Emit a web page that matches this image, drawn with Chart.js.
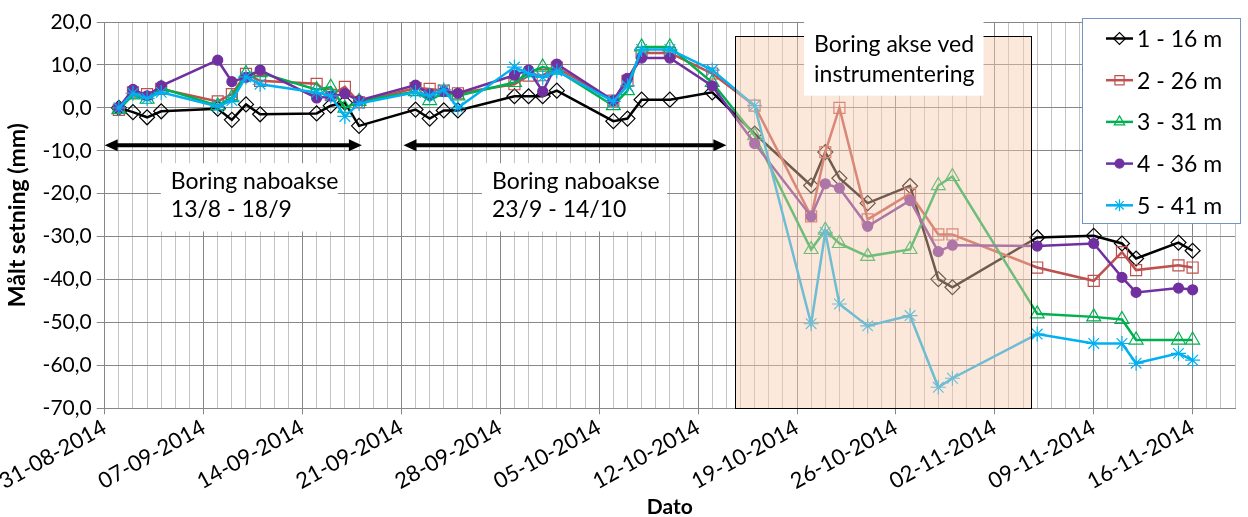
<!DOCTYPE html>
<html>
<head>
<meta charset="utf-8">
<script src="https://cdn.jsdelivr.net/npm/chart.js@4.4.1/dist/chart.umd.min.js"></script>
<style>
    html, body { margin: 0; padding: 0; background: #fff; }
    #wrap { width: 1248px; height: 517px; position: relative; }
</style>
</head>
<body>
<div id="wrap"><canvas id="myChart"></canvas></div>
<script>
// måledatoer
var dates = ["01-09-2014", "02-09-2014", "03-09-2014", "04-09-2014", "08-09-2014", "09-09-2014",
    "10-09-2014", "11-09-2014", "15-09-2014", "16-09-2014", "17-09-2014", "18-09-2014",
    "22-09-2014", "23-09-2014", "24-09-2014", "25-09-2014", "29-09-2014", "30-09-2014",
    "01-10-2014", "02-10-2014", "06-10-2014", "07-10-2014", "08-10-2014", "10-10-2014",
    "13-10-2014", "16-10-2014", "20-10-2014", "21-10-2014", "22-10-2014", "24-10-2014",
    "27-10-2014", "29-10-2014", "30-10-2014", "05-11-2014", "09-11-2014", "11-11-2014",
    "12-11-2014", "15-11-2014", "16-11-2014"];

var s1 = [0.0, -1.0, -2.2, -0.8, -0.2, -2.8, 0.8, -1.5, -1.3, 0.5, 1.2, -4.2,
    -0.4, -2.5, -0.6, -0.6, 2.7, 2.7, 2.7, 4.0, -3.1, -2.5, 1.9, 1.9, 3.6,
    -6.0, -18.1, -10.3, -16.4, -22.2, -18.2, -39.9, -41.8,
    -30.2, -29.8, -31.6, -35.1, -31.4, -33.3];
var s2 = [-0.5, 3.6, 3.2, 4.4, 1.5, 3.2, 7.9, 6.3, 5.6, 3.0, 4.9, 1.3,
    4.6, 4.4, 4.0, 3.4, 5.5, 7.5, 7.6, 9.4, 1.7, 6.3, 12.8, 12.8, 8.0,
    0.5, -25.3, -10.3, 0.0, -26.0, -20.0, -29.5, -29.5,
    -37.2, -40.3, -33.6, -37.8, -36.7, -37.2];
var s3 = [-0.4, 3.0, 2.0, 4.6, 0.5, 2.4, 8.0, 8.2, 4.2, 4.8, -0.1, 1.5,
    3.8, 1.7, 3.6, 2.8, 5.9, 8.2, 9.5, 8.8, 0.5, 4.0, 14.2, 14.2, 5.9,
    -6.5, -33.0, -28.5, -31.6, -34.6, -33.0, -18.1, -16.0,
    -48.0, -48.7, -49.3, -54.1, -54.1, -54.1];
var s4 = [0.1, 4.3, 2.8, 5.1, 11.1, 6.1, 7.1, 8.8, 2.3, 2.7, 3.3, 1.7,
    5.3, 3.2, 3.8, 3.4, 7.6, 8.8, 3.8, 10.2, 1.7, 6.9, 11.6, 11.6, 5.1,
    -8.3, -25.3, -17.7, -18.7, -27.6, -21.6, -33.5, -32.0,
    -32.2, -31.6, -39.5, -43.0, -42.0, -42.4];
var s5 = [0.0, 3.4, 2.2, 3.6, 0.3, 1.7, 7.2, 5.5, 3.6, 2.8, -2.0, 1.0,
    3.6, 2.8, 4.2, 0.0, 9.5, 8.0, 7.1, 8.6, 1.5, 5.1, 13.6, 13.6, 8.8,
    0.5, -50.3, -29.0, -45.7, -50.8, -48.4, -65.1, -63.0,
    -52.7, -54.9, -54.9, -59.5, -57.2, -58.8];

var seriesNames = ["1 - 16 m", "2 - 26 m", "3 - 31 m", "4 - 36 m", "5 - 41 m"];
var xTickLabels = ["31-08-2014", "07-09-2014", "14-09-2014", "21-09-2014", "28-09-2014", "05-10-2014",
    "12-10-2014", "19-10-2014", "26-10-2014", "02-11-2014", "09-11-2014", "16-11-2014"];
var xLastDay = "19-11-2014";

function dayOf(s) {
    var p = s.split('-');
    var p0 = xTickLabels[0].split('-');
    return (Date.UTC(+p[2], +p[1] - 1, +p[0]) - Date.UTC(+p0[2], +p0[1] - 1, +p0[0])) / 86400000;
}

function toPoints(vals) {
    return vals.map(function (v, i) { return { x: dayOf(dates[i]), y: v }; });
}

var FONT = 'Lato, "Open Sans", sans-serif';

var lineColors = ["#000000", "#C0504D", "#00B050", "#7030A0", "#00B0F0"];
var markers = [
    { style: 'rectRot', r: 7.5, fill: 'rgba(0,0,0,0)' },
    { style: 'rect', r: 7.8, fill: 'rgba(0,0,0,0)' },
    { style: 'triangle', r: 8, fill: 'rgba(0,0,0,0)' },
    { style: 'circle', r: 5, fill: '#7030A0' },
    { style: 'star', r: 7.5, fill: 'rgba(0,0,0,0)' }
];
var allSeries = [s1, s2, s3, s4, s5];

var datasets = allSeries.map(function (s, i) {
    return {
        label: seriesNames[i],
        data: toPoints(s),
        borderColor: lineColors[i],
        backgroundColor: lineColors[i],
        borderWidth: 2.5,
        tension: 0,
        pointStyle: markers[i].style,
        pointRadius: markers[i].r,
        pointBorderColor: lineColors[i],
        pointBackgroundColor: markers[i].fill,
        pointBorderWidth: 1.2,
        order: 5 - i
    };
});

var overlayPlugin = {
    id: 'overlays',
    afterDatasetsDraw: function (chart, args, opts) {
        var ctx = chart.ctx, xs = chart.scales.x, ys = chart.scales.y;
        ctx.save();

        // skravert felt
        var b = opts.shade;
        var l = xs.getPixelForValue(b.x0), r = xs.getPixelForValue(b.x1);
        var t = ys.getPixelForValue(b.y0), bt = ys.getPixelForValue(b.y1);
        ctx.fillStyle = b.color;
        ctx.fillRect(l, t, r - l, bt - t);
        ctx.strokeStyle = '#000';
        ctx.lineWidth = 1;
        ctx.strokeRect(Math.round(l) + 0.5, Math.round(t) + 0.5, Math.round(r - l), Math.round(bt - t));

        // piler
        opts.arrows.forEach(function (a) {
            var x0 = xs.getPixelForValue(a.x0), x1 = xs.getPixelForValue(a.x1), y = ys.getPixelForValue(a.y);
            var hl = 13, hw = 6;
            ctx.strokeStyle = '#000';
            ctx.fillStyle = '#000';
            ctx.lineWidth = 4;
            ctx.beginPath();
            ctx.moveTo(x0 + hl - 2, y);
            ctx.lineTo(x1 - hl + 2, y);
            ctx.stroke();
            ctx.beginPath();
            ctx.moveTo(x0, y); ctx.lineTo(x0 + hl, y - hw); ctx.lineTo(x0 + hl, y + hw); ctx.closePath();
            ctx.fill();
            ctx.beginPath();
            ctx.moveTo(x1, y); ctx.lineTo(x1 - hl, y - hw); ctx.lineTo(x1 - hl, y + hw); ctx.closePath();
            ctx.fill();
        });

        // tekstbokser
        opts.boxes.forEach(function (bx) {
            var l = xs.getPixelForValue(bx.x0), r = xs.getPixelForValue(bx.x1);
            var t = ys.getPixelForValue(bx.y0), bt = ys.getPixelForValue(bx.y1);
            ctx.fillStyle = '#fff';
            ctx.fillRect(l, t, r - l, bt - t);
            ctx.fillStyle = '#000';
            ctx.font = '23px ' + FONT;
            ctx.textAlign = 'left';
            ctx.textBaseline = 'alphabetic';
            bx.lines.forEach(function (txt, k) {
                ctx.fillText(txt, l + bx.padX, t + bx.base[k]);
            });
        });

        // tegnforklaring
        var lg = opts.legend;
        ctx.fillStyle = '#fff';
        ctx.fillRect(lg.x, lg.y, lg.w, lg.h);
        ctx.strokeStyle = '#7393C4';
        ctx.lineWidth = 1;
        ctx.strokeRect(lg.x + 0.5, lg.y + 0.5, lg.w, lg.h);
        chart.data.datasets.forEach(function (ds, i) {
            var cy = lg.y + lg.first + i * lg.step;
            var lx = lg.x + 24;
            ctx.strokeStyle = ds.borderColor;
            ctx.lineWidth = 2.5;
            ctx.beginPath();
            ctx.moveTo(lx, cy); ctx.lineTo(lx + 27, cy);
            ctx.stroke();
            ctx.fillStyle = ds.pointBackgroundColor;
            ctx.strokeStyle = ds.pointBorderColor;
            ctx.lineWidth = ds.pointBorderWidth;
            var pr = ds.pointStyle === 'circle' ? 4.5 : 6;
            if (ds.pointStyle === 'rect') pr = 6.5;
            Chart.helpers.drawPoint(ctx, { pointStyle: ds.pointStyle, radius: pr, rotation: 0, borderWidth: ds.pointBorderWidth }, lx + 13.5, cy);
            ctx.fillStyle = '#000';
            ctx.font = '23px ' + FONT;
            ctx.textAlign = 'left';
            ctx.textBaseline = 'middle';
            ctx.fillText(ds.label, lx + 31, cy + 1);
        });

        ctx.restore();
    }
};

const ctx1 = document.getElementById('myChart');

new Chart(ctx1, {
    type: 'line',
    data: { datasets: datasets },
    plugins: [overlayPlugin],
    options: {
        responsive: true,
        maintainAspectRatio: false,
        animation: false,
        layout: { padding: { top: 22, right: 13, left: 4, bottom: -3 } },
        plugins: {
            legend: { display: false },
            tooltip: { enabled: false },
            overlays: {
                shade: { x0: 44.62, x1: 65.56, y0: 16.7, y1: -70, color: 'rgba(248,203,173,0.45)' },
                arrows: [
                    { x0: 0, x1: 18.2, y: -8.7 },
                    { x0: 21.15, x1: 44.0, y: -8.7 }
                ],
                boxes: [
                    { x0: 3.97, x1: 16.5, y0: -12.9, y1: -28.8, padX: 10, base: [26, 54], lines: ["Boring naboakse", "13/8 - 18/9"] },
                    { x0: 26.7, x1: 39.8, y0: -12.9, y1: -28.8, padX: 10, base: [26, 54], lines: ["Boring naboakse", "23/9 - 14/10"] },
                    { x0: 49.5, x1: 62.2, y0: 20.2, y1: 2.84, padX: 10, base: [31, 61], lines: ["Boring akse ved", "instrumentering"] }
                ],
                legend: { x: 1082, y: 18, w: 158, h: 205, first: 20.5, step: 41.7 }
            }
        },
        scales: {
            x: {
                type: 'linear',
                min: 0,
                max: dayOf(xLastDay),
                afterBuildTicks: function (axis) {
                    var t = [];
                    for (var d = 0; d <= dayOf(xLastDay); d++) t.push({ value: d });
                    axis.ticks = t;
                },
                grid: {
                    color: function (c) { return c.tick && c.tick.value % 7 === 0 ? '#878787' : '#C4C4C4'; },
                    tickColor: function (c) { return c.tick && c.tick.value % 7 === 0 ? '#878787' : 'rgba(0,0,0,0)'; },
                    tickLength: 6,
                    lineWidth: 1
                },
                border: { color: '#878787' },
                ticks: {
                    autoSkip: false,
                    minRotation: 29,
                    maxRotation: 29,
                    padding: 0,
                    color: '#000',
                    font: { family: FONT, size: 22 },
                    callback: function (v) {
                        if (v % 7 !== 0) return '';
                        return xTickLabels[v / 7] || '';
                    }
                },
                title: {
                    display: true,
                    text: 'Dato',
                    color: '#000',
                    font: { family: FONT, size: 21, weight: 'bold' },
                    padding: { top: 0, bottom: 0 }
                }
            },
            y: {
                min: -70,
                max: 20,
                ticks: {
                    stepSize: 10,
                    color: '#000',
                    padding: 5,
                    font: { family: FONT, size: 21 },
                    callback: function (v) { return v.toFixed(1).replace('.', ','); }
                },
                grid: { color: '#878787', tickLength: 8 },
                border: { color: '#878787' },
                title: {
                    display: true,
                    text: 'Målt setning (mm)',
                    color: '#000',
                    font: { family: FONT, size: 23, weight: 'bold' },
                    padding: { top: 0, bottom: 6 }
                }
            }
        }
    }
});
</script>
</body>
</html>
